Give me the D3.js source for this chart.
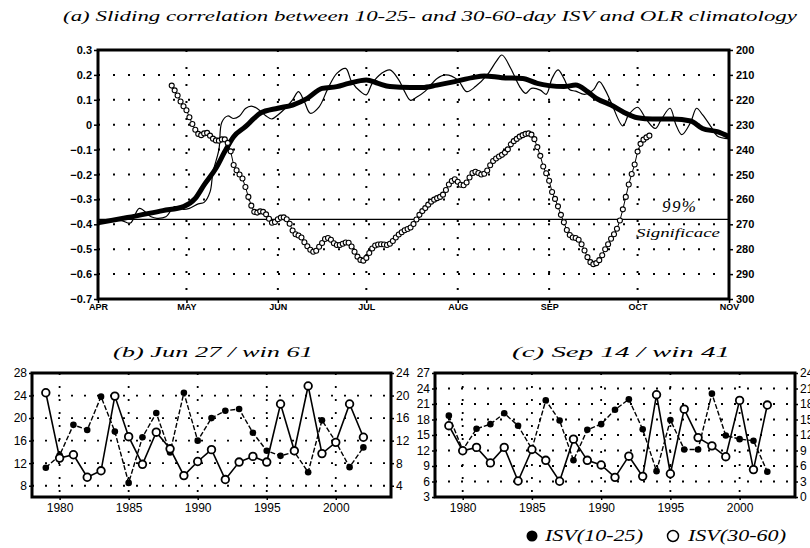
<!DOCTYPE html>
<html><head><meta charset="utf-8">
<script src="https://cdn.jsdelivr.net/npm/d3@7"></script>
<style>body{margin:0;background:#fff}</style>
</head><body><svg id="c" width="810" height="548"></svg>
<script>
// ---------------- DATA ----------------
const months = ["APR","MAY","JUN","JUL","AUG","SEP","OCT","NOV"];
const monthDays = [0,30,61,91,122,153,183,214];           // days since Apr 1
const leftTicksA = [0.3,0.2,0.1,0,-0.1,-0.2,-0.3,-0.4,-0.5,-0.6,-0.7];
const rightTicksA = [200,210,220,230,240,250,260,270,280,290,300];
const sigLevel = -0.38;

// sliding correlation (open circles), daily from day 25 (Apr 26)
const corrStartDay = 25;
const corrValues = [
 0.157,0.138,0.117,0.093,0.074,0.058,0.030,0.003,-0.020,-0.037,
 -0.042,-0.035,-0.033,-0.044,-0.056,-0.063,-0.064,-0.059,-0.059,-0.073,
 -0.107,-0.162,-0.183,-0.200,-0.216,-0.250,-0.290,-0.325,-0.350,-0.353,
 -0.348,-0.350,-0.360,-0.378,-0.394,-0.391,-0.380,-0.373,-0.372,-0.380,
 -0.398,-0.425,-0.440,-0.445,-0.453,-0.472,-0.488,-0.502,-0.510,-0.506,
 -0.490,-0.475,-0.459,-0.455,-0.462,-0.476,-0.483,-0.483,-0.478,-0.473,
 -0.474,-0.489,-0.510,-0.530,-0.543,-0.546,-0.535,-0.515,-0.497,-0.485,
 -0.481,-0.480,-0.481,-0.483,-0.478,-0.467,-0.453,-0.441,-0.432,-0.424,
 -0.419,-0.413,-0.399,-0.381,-0.362,-0.347,-0.335,-0.321,-0.309,-0.301,
 -0.295,-0.290,-0.281,-0.262,-0.240,-0.226,-0.219,-0.229,-0.241,-0.243,
 -0.232,-0.212,-0.194,-0.189,-0.194,-0.200,-0.197,-0.184,-0.163,-0.146,
 -0.136,-0.128,-0.121,-0.112,-0.099,-0.079,-0.066,-0.057,-0.048,-0.042,
 -0.037,-0.035,-0.040,-0.058,-0.090,-0.125,-0.168,-0.195,-0.225,-0.270,
 -0.298,-0.328,-0.362,-0.392,-0.423,-0.443,-0.453,-0.455,-0.462,-0.480,
 -0.505,-0.532,-0.552,-0.560,-0.556,-0.544,-0.524,-0.500,-0.480,-0.458,
 -0.440,-0.418,-0.385,-0.340,-0.290,-0.240,-0.198,-0.160,-0.108,-0.077,
 -0.060,-0.051,-0.044
];

// OLR climatology, smoothed (thick line), W/m2 on right axis
const olrSmoothDays = [0,10,22,29,33,36,40,43,46,50,53,55,61,66,71,76,81,85,91,95,99,106,110,115,121,127,131,137,144,149,153,158,162,166,169,174,178,183,188,195,201,205,210,214];
const olrSmooth = [269.4,267.3,264.5,262.9,259.6,254.2,247.5,240.8,234.8,230.8,227.4,225.4,223.4,222.1,219.4,215.4,214.7,213.4,212.0,213.4,214.7,215.1,215.1,214.1,212.7,211.1,210.4,211.1,211.4,213.4,214.3,214.7,214.1,216.7,219.4,222.1,224.8,227.2,227.7,227.7,228.5,231.5,232.8,234.8];

// OLR climatology, raw (thin line)
const olrRawDays = [0,4,8,11,14,18,20,23,26,29,31,34,36,38,39,41,42,44,46,48,50,52,54,57,59,61,63,66,68,70,72,75,78,81,84,86,89,91,93,96,99,102,104,106,108,111,115,118,122,125,128,132,135,137,140,143,145,147,150,152,154,156,158,160,162,165,168,170,172,174,178,180,183,186,189,191,194,196,198,201,203,205,208,210,214];
const olrRaw = [269.4,268.5,268.5,269.5,263.6,267.0,267.6,267.0,262.9,264.0,263.6,261.8,261.2,257.0,249.0,240.0,229.0,226.5,227.5,226.5,223.5,222.5,223.5,226.5,227.7,226.1,224.0,220.0,216.7,220.8,225.4,222.8,215.4,209.4,207.4,212.7,216.7,218.0,213.4,209.5,208.0,212.0,216.7,220.2,219.0,216.5,211.4,210.0,212.0,216.7,214.7,210.0,204.7,202.0,207.4,214.7,217.4,215.4,216.1,217.8,211.4,208.0,211.4,216.0,216.5,217.8,216.0,212.7,216.0,221.0,230.5,226.0,223.0,228.0,231.5,228.0,223.4,230.0,234.0,229.0,223.4,226.0,231.0,234.5,235.7];

// bottom panels
const years = [1979,1980,1981,1982,1983,1984,1985,1986,1987,1988,1989,1990,1991,1992,1993,1994,1995,1996,1997,1998,1999,2000,2001,2002];
const yearTicks = [1980,1985,1990,1995,2000];
// (b) Jun 27 / win 61
const bIsv1025 = [11.2,13.4,18.8,17.9,23.8,17.6,8.5,16.6,20.9,13.9,24.5,16.0,20.0,21.3,21.6,17.4,14.2,13.3,14.0,10.4,19.6,15.8,11.3,14.8];
const bIsv3060 = [20.5,8.9,9.5,5.5,6.65,19.9,12.7,7.8,13.5,10.55,5.8,8.3,10.4,5.1,8.2,9.2,8.2,18.5,10.2,21.7,9.7,11.7,18.5,12.6];
const bLeftTicks = [8,12,16,20,24,28];
const bRightTicks = [4,8,12,16,20,24];
// (c) Sep 14 / win 41
const cIsv1025 = [18.75,12.1,16.2,17.1,19.2,16.8,12.3,21.7,17.8,10.1,16.0,17.1,19.9,21.9,16.1,8.0,17.9,12.2,12.2,23.0,14.9,14.2,13.9,7.9];
const cIsv3060 = [13.8,8.95,9.6,6.6,9.6,3.1,9.2,7.1,3.05,11.2,7.1,6.2,3.8,7.9,4.0,19.8,4.5,17.0,11.5,9.9,7.8,18.7,5.3,17.8];
const cLeftTicks = [3,6,9,12,15,18,21,24,27];
const cRightTicks = [0,3,6,9,12,15,18,21,24];

// ---------------- DRAW ----------------
const svg = d3.select("#c");
svg.append("rect").attr("width",810).attr("height",548).attr("fill","#fff");
const serif = "'Liberation Serif','DejaVu Serif',serif";
const sans = "'Liberation Sans',Arial,sans-serif";

// titles
svg.append("text").attr("x",63).attr("y",21).attr("font-family",serif).attr("font-style","italic")
  .attr("font-size",15).attr("textLength",734).attr("lengthAdjust","spacingAndGlyphs")
  .text("(a) Sliding correlation between 10-25- and 30-60-day ISV and OLR climatology");

// ---- panel (a)
const xA = d3.scaleLinear().domain([0,214]).range([98,729]);
const yL = d3.scaleLinear().domain([-0.7,0.3]).range([299,50]);
const yR = d3.scaleLinear().domain([300,200]).range([299,50]);
const gA = svg.append("g");
// grid
gA.selectAll(".gh").data(leftTicksA.filter(v=>v<0.29&&v>-0.69)).join("line")
  .attr("x1",98).attr("x2",729).attr("y1",d=>yL(d)).attr("y2",d=>yL(d))
  .attr("stroke","#000").attr("stroke-width",2).attr("stroke-dasharray","2,13");
gA.selectAll(".gv").data(monthDays.slice(1,-1)).join("line")
  .attr("x1",d=>xA(d)).attr("x2",d=>xA(d)).attr("y1",50).attr("y2",299)
  .attr("stroke","#000").attr("stroke-width",2).attr("stroke-dasharray","2,15");
// axes
const fmtA = v => v===0 ? "0" : d3.format(".1f")(v);
const axL = gA.append("g").attr("transform","translate(98,0)")
  .call(d3.axisLeft(yL).tickValues(leftTicksA).tickFormat(fmtA).tickSize(4).tickPadding(2));
const axR = gA.append("g").attr("transform","translate(729,0)")
  .call(d3.axisRight(yR).tickValues(rightTicksA).tickSize(4).tickPadding(3));
const axB = gA.append("g").attr("transform","translate(0,299)")
  .call(d3.axisBottom(xA).tickValues(monthDays).tickFormat((d,i)=>months[i]).tickSize(4).tickPadding(1));
[axL,axR].forEach(a=>{a.select(".domain").remove();a.selectAll("text").attr("font-family",sans).attr("font-size",11).attr("font-weight","bold").attr("fill","#000");a.selectAll("line").attr("stroke-width",1.5);});
axB.select(".domain").remove();
axB.selectAll("text").attr("font-family",sans).attr("font-size",9).attr("font-weight","bold");
axB.selectAll("line").attr("stroke-width",1.5);
// significance line
gA.append("line").attr("x1",98).attr("x2",729).attr("y1",yL(sigLevel)).attr("y2",yL(sigLevel))
  .attr("stroke","#000").attr("stroke-width",1.3);
gA.append("text").attr("x",662).attr("y",212).attr("font-family",serif).attr("font-style","italic")
  .attr("font-size",17).attr("textLength",34).text("99%");
gA.append("text").attr("x",636).attr("y",237).attr("font-family",serif).attr("font-style","italic")
  .attr("font-size",13).attr("textLength",84).attr("lengthAdjust","spacingAndGlyphs").text("Significace");
// thin raw OLR
gA.append("path").datum(olrRawDays.map((d,i)=>[d,olrRaw[i]]))
  .attr("d",d3.line().x(d=>xA(d[0])).y(d=>yR(d[1])).curve(d3.curveCatmullRom))
  .attr("fill","none").attr("stroke","#000").attr("stroke-width",1.2);
// thick smoothed OLR
gA.append("path").datum(olrSmoothDays.map((d,i)=>[d,olrSmooth[i]]))
  .attr("d",d3.line().x(d=>xA(d[0])).y(d=>yR(d[1])).curve(d3.curveMonotoneX))
  .attr("fill","none").attr("stroke","#000").attr("stroke-width",5).attr("stroke-linejoin","round");
// correlation circles
const corr = corrValues.map((v,i)=>[corrStartDay+i,v]);
gA.append("path").datum(corr).attr("d",d3.line().x(d=>xA(d[0])).y(d=>yL(d[1])))
  .attr("fill","none").attr("stroke","#000").attr("stroke-width",1);
gA.selectAll(".cc").data(corr).join("circle").attr("cx",d=>xA(d[0])).attr("cy",d=>yL(d[1]))
  .attr("r",2.5).attr("fill","#fff").attr("stroke","#000").attr("stroke-width",1.1);
// frame
gA.append("rect").attr("x",98).attr("y",50).attr("width",631).attr("height",249)
  .attr("fill","none").attr("stroke","#000").attr("stroke-width",3);

// ---- bottom panels
function panel(cfg){
  const g = svg.append("g");
  const x = d3.scaleLinear().domain([1978,2004]).range([cfg.x0,cfg.x1]);
  const yl = d3.scaleLinear().domain(cfg.ld).range([497,373]);
  const yr = d3.scaleLinear().domain(cfg.rd).range([497,373]);
  g.selectAll(".gh").data(cfg.lt.filter(v=>v>cfg.ld[0]&&v<cfg.ld[1])).join("line")
    .attr("x1",cfg.x0).attr("x2",cfg.x1).attr("y1",d=>yl(d)).attr("y2",d=>yl(d))
    .attr("stroke","#000").attr("stroke-width",1.8).attr("stroke-dasharray","2,11");
  g.selectAll(".gv").data(yearTicks).join("line")
    .attr("x1",d=>x(d)).attr("x2",d=>x(d)).attr("y1",373).attr("y2",497)
    .attr("stroke","#000").attr("stroke-width",1.8).attr("stroke-dasharray","2,11");
  const aL = g.append("g").attr("transform",`translate(${cfg.x0},0)`)
    .call(d3.axisLeft(yl).tickValues(cfg.lt).tickSize(3).tickPadding(2));
  const aR = g.append("g").attr("transform",`translate(${cfg.x1},0)`)
    .call(d3.axisRight(yr).tickValues(cfg.rt).tickSize(3).tickPadding(2));
  const aB = g.append("g").attr("transform","translate(0,497)")
    .call(d3.axisBottom(x).tickValues(yearTicks).tickFormat(d3.format("d")).tickSize(3).tickPadding(3));
  [aL,aR,aB].forEach(a=>{a.select(".domain").remove();a.selectAll("text").attr("font-family",sans).attr("font-size",12).attr("fill","#000");a.selectAll("line").attr("stroke-width",1.5);});
  const f = years.map((yv,i)=>[yv,cfg.f[i]]);
  const o = years.map((yv,i)=>[yv,cfg.o[i]]);
  g.append("path").datum(f).attr("d",d3.line().x(d=>x(d[0])).y(d=>yl(d[1])))
    .attr("fill","none").attr("stroke","#000").attr("stroke-width",1.4).attr("stroke-dasharray","5,2");
  g.append("path").datum(o).attr("d",d3.line().x(d=>x(d[0])).y(d=>yr(d[1])))
    .attr("fill","none").attr("stroke","#000").attr("stroke-width",1.6);
  g.selectAll(".fc").data(f).join("circle").attr("cx",d=>x(d[0])).attr("cy",d=>yl(d[1])).attr("r",3.3).attr("fill","#000");
  g.selectAll(".oc").data(o).join("circle").attr("cx",d=>x(d[0])).attr("cy",d=>yr(d[1])).attr("r",3.8)
    .attr("fill","#fff").attr("stroke","#000").attr("stroke-width",1.8);
  g.append("rect").attr("x",cfg.x0).attr("y",373).attr("width",cfg.x1-cfg.x0).attr("height",124)
    .attr("fill","none").attr("stroke","#000").attr("stroke-width",3);
  svg.append("text").attr("x",cfg.tx).attr("y",357).attr("font-family",serif).attr("font-style","italic")
    .attr("font-size",15).attr("textLength",cfg.tw).attr("lengthAdjust","spacingAndGlyphs").text(cfg.title);
}
panel({x0:32,x1:391,ld:[6,28],rd:[2,24],lt:bLeftTicks,rt:bRightTicks,f:bIsv1025,o:bIsv3060,title:"(b) Jun 27 / win 61",tx:113,tw:200});
panel({x0:435,x1:795,ld:[3,27],rd:[0,24],lt:cLeftTicks,rt:cRightTicks,f:cIsv1025,o:cIsv3060,title:"(c) Sep 14 / win 41",tx:512,tw:218});

// legend
svg.append("circle").attr("cx",532).attr("cy",536).attr("r",5.5).attr("fill","#000");
svg.append("text").attr("x",545).attr("y",541).attr("font-family",serif).attr("font-style","italic")
  .attr("font-size",16).attr("textLength",98).attr("lengthAdjust","spacingAndGlyphs").text("ISV(10-25)");
svg.append("circle").attr("cx",673).attr("cy",536).attr("r",5.5).attr("fill","#fff").attr("stroke","#000").attr("stroke-width",1.5);
svg.append("text").attr("x",688).attr("y",541).attr("font-family",serif).attr("font-style","italic")
  .attr("font-size",16).attr("textLength",98).attr("lengthAdjust","spacingAndGlyphs").text("ISV(30-60)");
</script></body></html>
